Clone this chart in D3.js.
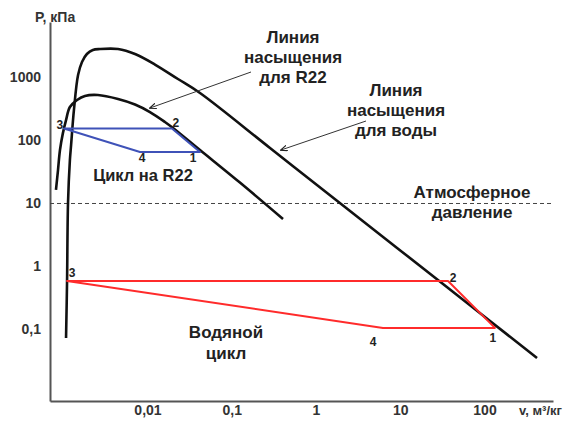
<!DOCTYPE html>
<html><head><meta charset="utf-8">
<script src="https://cdn.jsdelivr.net/npm/d3@7"></script>
<style>body{margin:0;background:#fff}svg{display:block}</style>
</head><body>
<svg id="c" width="568" height="421"></svg>
<script>
// ---- data (v in m3/kg, P in kPa) ----
const waterV = [0.00108,0.00111,0.00114,0.00120,0.00124,0.00134,0.00150,0.00167,0.00191,0.00225,0.00273,0.00447,0.00711,0.01227,0.0230,0.0420,0.2845,1.775,32.2,420];
const waterP = [0.0733,0.568,10.2,49,85,305,1096,1762,2360,2735,2830,2830,2360,1608,946,567,76.0,11.07,0.527,0.0353];
const r22V = [0.00082,0.000867,0.000915,0.000991,0.00108,0.00120,0.00146,0.00181,0.00258,0.00447,0.00711,0.0107,0.0161,0.0201,0.042,0.125,0.406];
const r22P = [16.4,34,70.6,131,211,340,439,509,527,456,373,283,197,158,70.6,21.5,5.68];
const r22CycleV = [0.00102,0.0195,0.042,0.00815];   // points 3,2,1,4
const r22CycleP = [155,155,65.7,65.7];
const r22CycleLabels = ["3","2","1","4"];
const waterCycleV = [0.00111,36.9,133,6.24];         // points 3,2,1,4
const waterCycleP = [0.589,0.589,0.106,0.106];
const waterCycleLabels = ["3","2","1","4"];
const atmP = 10;
const xTicks = [0.01,0.1,1,10,100];
const xTickLabels = ["0,01","0,1","1","10","100"];
const yTicks = [0.1,1,10,100,1000];
const yTickLabels = ["0,1","1","10","100","1000"];

// ---- layout ----
const svg = d3.select("#c");
const x = d3.scaleLog().domain([Math.pow(10,-3.157), Math.pow(10,2.813)]).range([50,553]);
const y = d3.scaleLog().domain([Math.pow(10,-2.135), Math.pow(10,3.881)]).range([401,22]);
const font = "'Liberation Sans', Arial, sans-serif";

// axes
const xAxis = svg.append("g").attr("transform","translate(0,401)")
  .call(d3.axisBottom(x).tickValues(xTicks).tickFormat((d,i)=>xTickLabels[i]).tickSize(0).tickPadding(4));
const yAxis = svg.append("g").attr("transform","translate(50,0)")
  .call(d3.axisLeft(y).tickValues(yTicks).tickFormat((d,i)=>yTickLabels[i]).tickSize(0).tickPadding(9));
[xAxis,yAxis].forEach(g=>{
  g.select(".domain").attr("stroke","#555").attr("stroke-width",2);
  g.selectAll("text").attr("font-family",font).attr("font-size",14).attr("font-weight","bold").attr("fill","#333");
});

svg.append("text").attr("x",35).attr("y",22).attr("font-family",font).attr("font-size",14)
  .attr("font-weight","bold").attr("fill","#333").text("P, кПа");
svg.append("text").attr("x",519).attr("y",415).attr("font-family",font).attr("font-size",13)
  .attr("font-weight","bold").attr("fill","#333").text("v, м³/кг");

// atmospheric line
svg.append("line").attr("x1",50).attr("x2",553).attr("y1",y(atmP)).attr("y2",y(atmP))
  .attr("stroke","#444").attr("stroke-width",1).attr("stroke-dasharray","4,3");

const line = d3.line().x(d=>x(d[0])).y(d=>y(d[1])).curve(d3.curveCatmullRom.alpha(0.5));
const poly = d3.line().x(d=>x(d[0])).y(d=>y(d[1])).curve(d3.curveLinearClosed);

// saturation curves
svg.append("path").datum(waterV.map((v,i)=>[v,waterP[i]])).attr("d",line)
  .attr("fill","none").attr("stroke","#111").attr("stroke-width",2.6);
svg.append("path").datum(r22V.map((v,i)=>[v,r22P[i]])).attr("d",line)
  .attr("fill","none").attr("stroke","#111").attr("stroke-width",2.6);

// cycles
svg.append("path").datum(r22CycleV.map((v,i)=>[v,r22CycleP[i]])).attr("d",poly)
  .attr("fill","none").attr("stroke","#3f52b8").attr("stroke-width",2).attr("stroke-linejoin","round");
svg.append("path").datum(waterCycleV.map((v,i)=>[v,waterCycleP[i]])).attr("d",poly)
  .attr("fill","none").attr("stroke","#ff2b2b").attr("stroke-width",2).attr("stroke-linejoin","round");

// point labels
const r22Off = [[-4,0],[4,-2],[-7,10],[2,10]];
const wOff = [[5,-4],[5,1],[-2,14],[-10,18]];
function ptLabels(vs,ps,labs,off){
  svg.append("g").selectAll("text").data(vs).join("text")
    .attr("x",(d,i)=>x(d)+off[i][0]).attr("y",(d,i)=>y(ps[i])+off[i][1])
    .attr("text-anchor","middle").attr("font-family",font).attr("font-size",12).attr("font-weight","bold")
    .attr("fill","#222").text((d,i)=>labs[i]);
}
ptLabels(r22CycleV,r22CycleP,r22CycleLabels,r22Off);
ptLabels(waterCycleV,waterCycleP,waterCycleLabels,wOff);

// arrows
svg.append("defs").append("marker").attr("id","ah").attr("viewBox","0 0 10 10").attr("refX",9).attr("refY",5)
  .attr("markerWidth",7).attr("markerHeight",7).attr("orient","auto")
  .append("path").attr("d","M0,1 L10,5 L0,9").attr("fill","none").attr("stroke","#222").attr("stroke-width",1.6);
svg.append("line").attr("x1",251).attr("y1",72).attr("x2",150).attr("y2",108)
  .attr("stroke","#333").attr("stroke-width",1).attr("marker-end","url(#ah)");
svg.append("line").attr("x1",366).attr("y1",121).attr("x2",281).attr("y2",150)
  .attr("stroke","#333").attr("stroke-width",1).attr("marker-end","url(#ah)");

// text labels
function block(cx,ys,lines,size){
  const t = svg.append("text").attr("text-anchor","middle").attr("font-family",font)
    .attr("font-size",size).attr("font-weight","bold").attr("fill","#222");
  lines.forEach((l,i)=>t.append("tspan").attr("x",cx).attr("y",ys[i]).text(l));
}
block(293,[43,63,83],["Линия","насыщения","для R22"],17);
block(396,[96,116,136],["Линия","насыщения","для воды"],17);
block(472,[198,218],["Атмосферное","давление"],17);
block(143,[181],["Цикл на R22"],16.5);
block(226,[338,359],["Водяной","цикл"],17);
</script>
</body></html>
